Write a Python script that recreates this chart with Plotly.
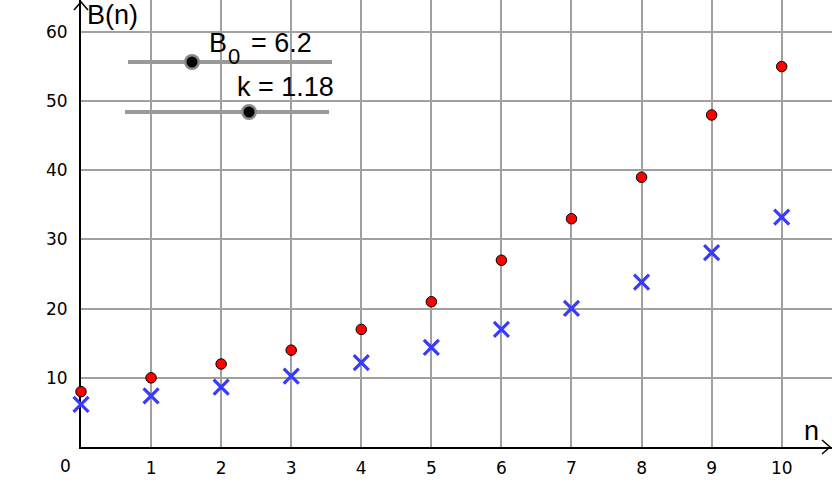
import plotly.graph_objects as go

# sequence data
n_values = list(range(11))
b_points = [8, 10, 12, 14, 17, 21, 27, 33, 39, 48, 55]
b_model = [6.15, 7.4, 8.65, 10.25, 12.2, 14.4, 17.0, 20.05, 23.85, 28.1, 33.25]
x_ticks = list(range(1, 11))
y_ticks = [10, 20, 30, 40, 50, 60]
b0_name, b0_sub, b0_value = "B", "0", "= 6.2"
k_label = "k = 1.18"

W, H = 832, 491
ML, MB = 81, 44
PW, PH = W - ML, H - MB
FONT = "Liberation Sans, Arial, sans-serif"
TICK_FONT = dict(family="DejaVu Sans, sans-serif", size=17, color="black")


def px(x, y):
    # pixel position in the window -> paper coords
    return (x - ML) / PW, (PH - y) / PH


fig = go.Figure()

fig.add_trace(go.Scatter(
    x=n_values, y=b_model, mode="markers", cliponaxis=False,
    marker=dict(symbol="x-thin", size=15, color="#3a3aff",
                line=dict(width=3.2, color="#3a3aff")),
))
fig.add_trace(go.Scatter(
    x=n_values, y=b_points, mode="markers", cliponaxis=False,
    marker=dict(symbol="circle", size=10.5, color="#ff0000",
                line=dict(width=1, color="black")),
))

shapes = []
# slider bars
for x0, x1, y in [(128, 332, 62), (125, 329, 112)]:
    a = px(x0, y)
    b = px(x1, y)
    shapes.append(dict(type="line", xref="paper", yref="paper",
                       x0=a[0], y0=a[1], x1=b[0], y1=b[1],
                       line=dict(color="#999999", width=4)))
# slider knobs
for kx, ky in [(192, 62), (249, 112)]:
    for r, col in [(8, "#8a8a8a"), (5.5, "black")]:
        a = px(kx - r, ky + r)
        b = px(kx + r, ky - r)
        shapes.append(dict(type="circle", xref="paper", yref="paper",
                           x0=a[0], y0=a[1], x1=b[0], y1=b[1],
                           fillcolor=col, line=dict(width=0)))


# axis arrow heads
def path(pts):
    s = ""
    for i, (x, y) in enumerate(pts):
        p = px(x, y)
        s += ("M" if i == 0 else "L") + f"{p[0]:.5f},{p[1]:.5f}"
    return s


shapes.append(dict(type="path", xref="paper", yref="paper",
                   path=path([(74, 10), (81, 2), (88, 10)]),
                   line=dict(color="black", width=1.5)))
shapes.append(dict(type="path", xref="paper", yref="paper",
                   path=path([(822, 440), (830, 447), (822, 454)]),
                   line=dict(color="black", width=1.5)))

annotations = [
    dict(text="0", xref="x", yref="y", x=0, y=0, xanchor="right", yanchor="top",
         xshift=-8, yshift=-7, showarrow=False, font=TICK_FONT),
    dict(text="B(n)", xref="paper", yref="paper", x=px(85, 0)[0], y=1,
         xanchor="left", yanchor="top", yshift=2, showarrow=False,
         font=dict(size=27)),
    dict(text="n", xref="paper", yref="paper", x=px(802, 0)[0], y=0,
         xanchor="left", yanchor="bottom", yshift=-1, showarrow=False,
         font=dict(size=27)),
    dict(text=b0_name, xref="paper", yref="paper", x=px(207, 0)[0], y=px(0, 43)[1],
         xanchor="left", yanchor="middle", showarrow=False, font=dict(size=27)),
    dict(text=b0_sub, xref="paper", yref="paper", x=px(226, 0)[0], y=px(0, 56)[1],
         xanchor="left", yanchor="middle", showarrow=False, font=dict(size=22)),
    dict(text=b0_value, xref="paper", yref="paper", x=px(249, 0)[0], y=px(0, 43)[1],
         xanchor="left", yanchor="middle", showarrow=False, font=dict(size=27)),
    dict(text=k_label, xref="paper", yref="paper", x=px(235, 0)[0], y=px(0, 87)[1],
         xanchor="left", yanchor="middle", showarrow=False, font=dict(size=27)),
]

fig.update_layout(
    width=W, height=H,
    margin=dict(l=ML, r=0, t=0, b=MB, pad=0),
    paper_bgcolor="white", plot_bgcolor="white",
    showlegend=False,
    font=dict(family=FONT, color="black"),
    shapes=shapes,
    annotations=annotations,
    xaxis=dict(range=[0, PW / 70.07], tickvals=x_ticks, ticks="",
               showgrid=True, gridcolor="#a0a0a0", gridwidth=1.5,
               showline=True, linecolor="black", linewidth=2,
               zeroline=False, layer="below traces",
               tickfont=TICK_FONT, ticklabelstandoff=5),
    yaxis=dict(range=[0, PH / 6.917], tickvals=y_ticks, ticks="",
               showgrid=True, gridcolor="#a0a0a0", gridwidth=1.5,
               showline=True, linecolor="black", linewidth=2,
               zeroline=False, layer="below traces",
               tickfont=TICK_FONT, ticklabelstandoff=8),
)

fig.write_html("out.html", config={"displayModeBar": False},
               post_script="document.body.style.margin='0';")
